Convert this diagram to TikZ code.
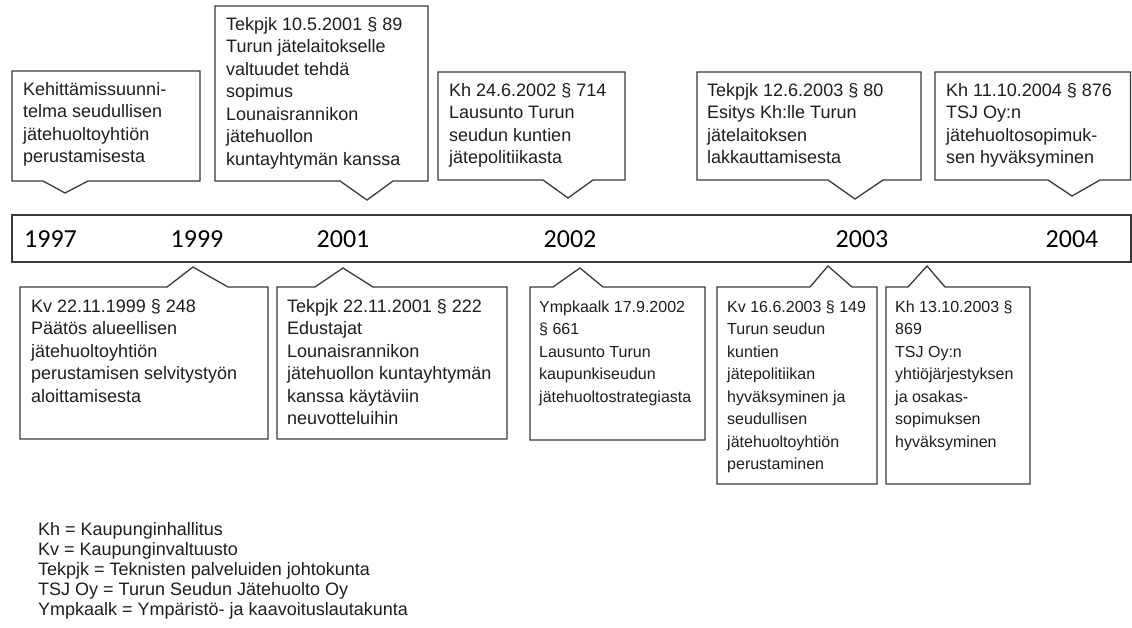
\documentclass[tikz,border=0pt]{standalone}
\usepackage{fontspec}
\setmainfont{Liberation Sans}
\newfontfamily\yearfont{Carlito}
\definecolor{boxc}{HTML}{3A3A3A}
\definecolor{txtc}{HTML}{1E1E1E}
\newcommand\topcallout[8]{\draw[box] (#1,#3) -- (#2,#3) -- (#2,#4) -- (#8,#4) -- (#6,#7) -- (#5,#4) -- (#1,#4) -- cycle;}
\newcommand\botcallout[8]{\draw[box] (#1,#4) -- (#2,#4) -- (#2,#3) -- (#8,#3) -- (#6,#7) -- (#5,#3) -- (#1,#3) -- cycle;}
\newcommand\lines[1]{\parbox[t]{320pt}{\raggedright\hyphenpenalty=10000 #1}}
\tikzset{
  box/.style={draw=boxc, line width=1.3pt, line join=miter, fill=white},
  txt/.style={anchor=base west, inner sep=0pt, text=txtc, font=\fontsize{18}{22.5}\selectfont},
  txts/.style={txt, font=\fontsize{16}{22.5}\selectfont},
  yr/.style={anchor=base, inner sep=0pt, text=black, font=\yearfont\fontsize{26}{30}\selectfont},
  leg/.style={anchor=base west, inner sep=0pt, text=txtc, font=\fontsize{18}{20}\selectfont},
}
\begin{document}
\begin{tikzpicture}[x=1pt,y=-1pt]
\useasboundingbox (0,0) rectangle (1132,627);
\fill[white] (0,0) rectangle (1132,627);

% timeline band
\draw[box] (12,215) rectangle (1131,262);
\node[yr] (y1997) at (50.5,247) {1997};
\node[yr] (y1999) at (197,247) {1999};
\node[yr] (y2001) at (343,247) {2001};
\node[yr] (y2002) at (570,247) {2002};
\node[yr] (y2003) at (862,247) {2003};
\node[yr] (y2004) at (1072,247) {2004};

% top callouts
\topcallout{12}{200}{71}{181}{43}{65}{193}{88}
\node[txt] (t1) at (23,95) {\lines{Kehittämissuunni-\\telma seudullisen\\jätehuoltoyhtiön\\perustamisesta}};

\topcallout{215}{428}{6}{181}{340}{367}{200}{393}
\node[txt] (t2) at (226,30) {\lines{Tekpjk 10.5.2001 § 89\\Turun jätelaitokselle\\valtuudet tehdä\\sopimus\\Lounaisrannikon\\jätehuollon\\kuntayhtymän kanssa}};

\topcallout{438}{625}{72}{180}{543}{568}{198}{593}
\node[txt] (t3) at (449,96) {\lines{Kh 24.6.2002 § 714\\Lausunto Turun\\seudun kuntien\\jätepolitiikasta}};

\topcallout{697}{921}{72}{180}{828}{855}{199}{883}
\node[txt] (t4) at (707,96) {\lines{Tekpjk 12.6.2003 § 80\\Esitys Kh:lle Turun\\jätelaitoksen\\lakkauttamisesta}};

\topcallout{935}{1130.5}{72}{180}{1048}{1072}{196}{1100}
\node[txt] (t5) at (946,96) {\lines{Kh 11.10.2004 § 876\\TSJ Oy:n\\jätehuoltosopimuk-\\sen hyväksyminen}};

% bottom callouts
\botcallout{20}{268}{287}{439}{167}{193}{267}{228}
\node[txt] (b1) at (31,312) {\lines{Kv 22.11.1999 § 248\\Päätös alueellisen\\jätehuoltoyhtiön\\perustamisen selvitystyön\\aloittamisesta}};

\botcallout{277}{507}{287}{439}{315}{343}{268}{373}
\node[txt] (b2) at (287,312) {\lines{Tekpjk 22.11.2001 § 222\\Edustajat\\Lounaisrannikon\\jätehuollon kuntayhtymän\\kanssa käytäviin\\neuvotteluihin}};

\botcallout{530}{705}{287}{440}{553}{580}{268}{603}
\node[txts] (b3) at (539,312) {\lines{Ympkaalk 17.9.2002\\§ 661\\Lausunto Turun\\kaupunkiseudun\\jätehuoltostrategiasta}};

\botcallout{717}{877}{287}{484}{810}{828}{266}{852}
\node[txts] (b4) at (727,312) {\lines{Kv 16.6.2003 § 149\\Turun seudun\\kuntien\\jätepolitiikan\\hyväksyminen ja\\seudullisen\\jätehuoltoyhtiön\\perustaminen}};

\botcallout{886}{1030}{287}{484}{908}{927}{266}{945}
\node[txts] (b5) at (895,312) {\lines{Kh 13.10.2003 §\\869\\TSJ Oy:n\\yhtiöjärjestyksen\\ja osakas-\\sopimuksen\\hyväksyminen}};

% legend
\node[leg] (legend) at (38,535) {\parbox[t]{420pt}{\raggedright Kh = Kaupunginhallitus\\Kv = Kaupunginvaltuusto\\Tekpjk = Teknisten palveluiden johtokunta\\TSJ Oy = Turun Seudun Jätehuolto Oy\\Ympkaalk = Ympäristö- ja kaavoituslautakunta}};
\end{tikzpicture}
\end{document}
